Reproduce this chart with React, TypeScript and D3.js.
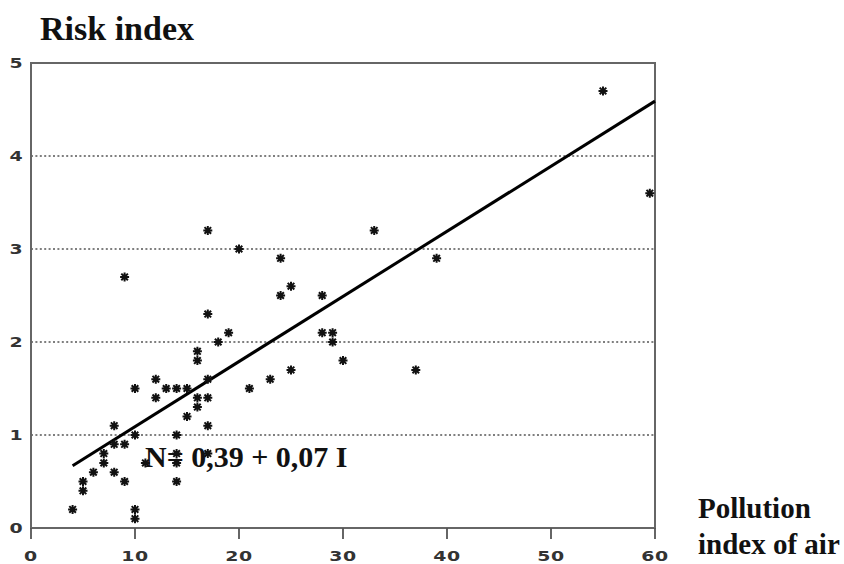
import React, { useRef, useEffect } from 'react';
import * as d3 from 'd3';

// pollution index (x) and risk index (y) of each observation
const pollution = [4, 5, 5, 6, 7, 7, 8, 8, 8, 9, 9, 9, 10, 10, 10, 10, 11, 12, 12, 13, 14, 14, 14, 14, 14, 15, 15, 16, 16, 16, 16, 17, 17, 17, 17, 17, 17, 18, 19, 20, 21, 23, 24, 24, 25, 25, 28, 28, 29, 29, 30, 33, 37, 39, 55, 59.5];
const risk = [0.2, 0.4, 0.5, 0.6, 0.7, 0.8, 0.6, 0.9, 1.1, 0.5, 0.9, 2.7, 0.1, 0.2, 1.0, 1.5, 0.7, 1.4, 1.6, 1.5, 0.5, 0.7, 0.8, 1.0, 1.5, 1.2, 1.5, 1.3, 1.4, 1.8, 1.9, 0.8, 1.1, 1.4, 1.6, 2.3, 3.2, 2.0, 2.1, 3.0, 1.5, 1.6, 2.5, 2.9, 1.7, 2.6, 2.1, 2.5, 2.0, 2.1, 1.8, 3.2, 1.7, 2.9, 4.7, 3.6];

const xTicks = [0, 10, 20, 30, 40, 50, 60];
const yTicks = [0, 1, 2, 3, 4, 5];
const gridLevels = [1, 2, 3, 4];

// fitted line N = 0.39 + 0.07 I, drawn from I = 4 to I = 60
const intercept = 0.39;
const slope = 0.07;
const fitRange = [4, 60];

const App = () => {
  const ref = useRef<SVGSVGElement>(null);

  useEffect(() => {
    if (!ref.current) return;
    const svg = d3.select(ref.current);
    svg.selectAll('*').remove();

    const left = 31, right = 655, top = 63, bottom = 528;
    const x = d3.scaleLinear().domain([0, 60]).range([left, right]);
    const y = d3.scaleLinear().domain([0, 5]).range([bottom, top]);

    // dotted grid lines
    svg.append('g')
      .selectAll('line')
      .data(gridLevels)
      .enter()
      .append('line')
      .attr('x1', left)
      .attr('x2', right)
      .attr('y1', d => y(d))
      .attr('y2', d => y(d))
      .attr('stroke', '#555')
      .attr('stroke-width', 1.6)
      .attr('stroke-dasharray', '2,2.4');

    // frame
    svg.append('rect')
      .attr('x', left)
      .attr('y', top)
      .attr('width', right - left)
      .attr('height', bottom - top)
      .attr('fill', 'none')
      .attr('stroke', '#666')
      .attr('stroke-width', 2);

    // x axis ticks and labels (wide, squat digits as in the source)
    const xg = svg.append('g');
    xg.selectAll('line')
      .data(xTicks)
      .enter()
      .append('line')
      .attr('x1', d => x(d))
      .attr('x2', d => x(d))
      .attr('y1', bottom)
      .attr('y2', bottom + 11)
      .attr('stroke', '#555')
      .attr('stroke-width', 1.8);
    xg.selectAll('text')
      .data(xTicks)
      .enter()
      .append('text')
      .attr('transform', d => `translate(${x(d)},561) scale(1.35,1)`)
      .attr('text-anchor', 'middle')
      .attr('font-family', 'DejaVu Sans')
      .attr('font-weight', 'bold')
      .attr('font-size', 14)
      .attr('letter-spacing', 0.5)
      .attr('fill', '#333')
      .text(d => d);

    // y axis labels
    svg.append('g')
      .selectAll('text')
      .data(yTicks)
      .enter()
      .append('text')
      .attr('transform', d => `translate(16,${y(d) + 5}) scale(1.35,1)`)
      .attr('text-anchor', 'middle')
      .attr('font-family', 'DejaVu Sans')
      .attr('font-weight', 'bold')
      .attr('font-size', 14)
      .attr('fill', '#333')
      .text(d => d);

    // regression line
    const line = d3.line<number>()
      .x(d => x(d))
      .y(d => y(intercept + slope * d));
    svg.append('path')
      .datum(fitRange)
      .attr('fill', 'none')
      .attr('stroke', '#000')
      .attr('stroke-width', 3)
      .attr('d', line);

    // asterisk markers
    const star = 'M-4.5,0H4.5M0,-4.5V4.5M-3.3,-3.3L3.3,3.3M-3.3,3.3L3.3,-3.3';
    svg.append('g')
      .selectAll('path')
      .data(d3.range(pollution.length))
      .enter()
      .append('path')
      .attr('transform', i => `translate(${x(pollution[i])},${y(risk[i])})`)
      .attr('d', star)
      .attr('stroke', '#111')
      .attr('stroke-width', 2)
      .attr('fill', 'none');

    // equation
    svg.append('text')
      .attr('x', 145)
      .attr('y', 467)
      .attr('font-family', 'Liberation Serif')
      .attr('font-weight', 'bold')
      .attr('font-size', 30)
      .attr('fill', '#111')
      .text('N= 0,39 + 0,07 I');

    // titles
    svg.append('text')
      .attr('x', 40)
      .attr('y', 40)
      .attr('font-family', 'Liberation Serif')
      .attr('font-weight', 'bold')
      .attr('font-size', 34)
      .attr('fill', '#111')
      .text('Risk index');

    const xt = svg.append('text')
      .attr('font-family', 'Liberation Serif')
      .attr('font-weight', 'bold')
      .attr('font-size', 29)
      .attr('fill', '#111');
    xt.append('tspan').attr('x', 698).attr('y', 518).text('Pollution');
    xt.append('tspan').attr('x', 698).attr('y', 554).text('index of air');
  }, []);

  return (
    <div style={{ position: 'absolute', left: 0, top: 0 }}>
      <svg ref={ref} width={844} height={564} style={{ display: 'block', background: '#fff' }} />
    </div>
  );
};

export default App;
